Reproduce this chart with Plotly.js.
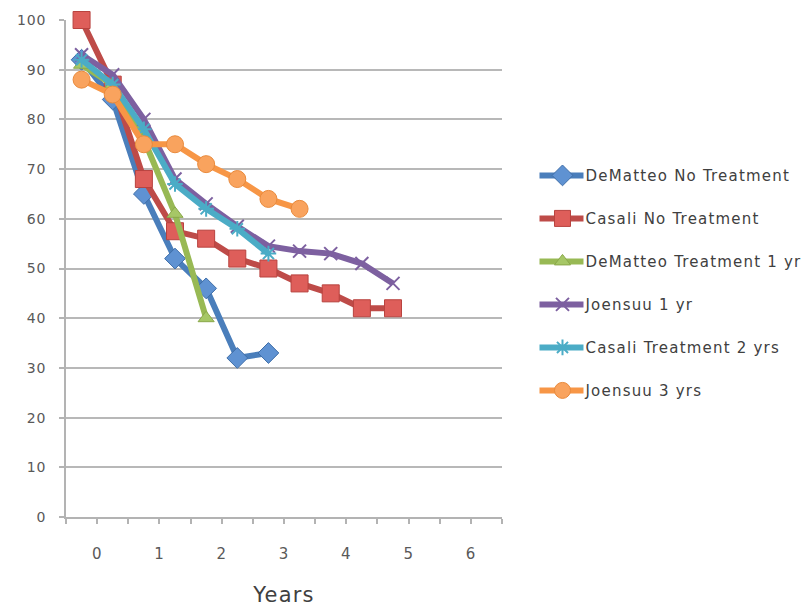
<!DOCTYPE html>
<html>
<head>
<meta charset="utf-8">
<script src="https://cdn.plot.ly/plotly-3.0.1.min.js"></script>
<style>
html,body{margin:0;padding:0;background:#fff;}
#chart{width:808px;height:607px;}
.legendtext{letter-spacing:1.2px;}
#chart .xtick text,#chart .ytick text{letter-spacing:0.8px;}
.xtitle{letter-spacing:1.2px;}
</style>
</head>
<body>
<div id="chart"></div>
<script>
// Time points (years) of each measured point
const years = [-0.25, 0.25, 0.75, 1.25, 1.75, 2.25, 2.75, 3.25, 3.75, 4.25, 4.75];

const seriesNames = [
  "DeMatteo No Treatment",
  "Casali No Treatment",
  "DeMatteo Treatment 1 yr",
  "Joensuu 1 yr",
  "Casali Treatment 2 yrs",
  "Joensuu 3 yrs"
];

const deMatteoNoTreatment = [92, 84, 65, 52, 46, 32, 33];
const casaliNoTreatment   = [100, 87, 68, 57.5, 56, 52, 50, 47, 45, 42, 42];
const deMatteoTreatment1  = [91, 87, 76, 61, 40];
const joensuu1yr          = [93, 89, 80, 68, 63, 58.5, 54.5, 53.5, 53, 51, 47];
const casaliTreatment2    = [92, 87, 78, 67, 62, 58, 53];
const joensuu3yrs         = [88, 85, 75, 75, 71, 68, 64, 62];

const xTickVals = [-0.5,0,0.5,1,1.5,2,2.5,3,3.5,4,4.5,5,5.5,6,6.5];
const xTickText = ["","0","","1","","2","","3","","4","","5","","6",""];
const yTickVals = [0,10,20,30,40,50,60,70,80,90,100];

const values = [deMatteoNoTreatment, casaliNoTreatment, deMatteoTreatment1, joensuu1yr, casaliTreatment2, joensuu3yrs];
const lineColors = ["#4A7EBB", "#BE4B48", "#98B954", "#7D60A0", "#4BACC6", "#F79646"];
const markerFills = ["#5F92D2", "#DE5E5A", "#A6C766", "#7D60A0", "#4BACC6", "#F9A35E"];
const markerLines = ["#3F6EA8", "#B8433F", "#8AA84A", "#6E5290", "#3F96AE", "#E98A3C"];
const symbols = ["diamond", "square", "triangle-up", "x-thin-open", "asterisk-open", "circle"];
const sizes = [16, 17, 14, 13, 13, 17];

const traces = values.map((v, k) => {
  const open = symbols[k].indexOf("open") >= 0;
  return {
    type: "scatter",
    mode: "lines+markers",
    name: seriesNames[k],
    legendgroup: "g" + k,
    x: years.slice(0, v.length),
    y: v,
    cliponaxis: false,
    line: {color: lineColors[k], width: 6},
    marker: {
      symbol: symbols[k],
      size: sizes[k],
      color: open ? lineColors[k] : markerFills[k],
      line: {color: open ? lineColors[k] : markerLines[k], width: open ? 2 : 1}
    }
  };
});

const layout = {
  width: 808,
  height: 607,
  paper_bgcolor: "#ffffff",
  plot_bgcolor: "#ffffff",
  margin: {l: 66, r: 306, t: 20, b: 90, autoexpand: false},
  font: {family: "DejaVu Sans, sans-serif", color: "#595959", size: 12},
  showlegend: true,
  legend: {
    x: 1.086, xanchor: "left",
    y: 0.72, yanchor: "top",
    font: {size: 15, color: "#404040"},
    tracegroupgap: 20.5,
    itemwidth: 36,
    bgcolor: "rgba(0,0,0,0)"
  },
  xaxis: {
    range: [-0.5, 6.5],
    tickmode: "array",
    tickvals: xTickVals,
    ticktext: xTickText,
    ticks: "outside",
    ticklen: 5,
    tickwidth: 2,
    tickcolor: "#b3b3b3",
    ticklabelstandoff: 17,
    showgrid: false,
    zeroline: false,
    showline: true,
    linecolor: "#b3b3b3",
    linewidth: 2,
    tickfont: {size: 15, color: "#595959"},
    title: {text: "Years", font: {size: 21, color: "#404040"}, standoff: 26}
  },
  yaxis: {
    range: [0, 100],
    tickmode: "array",
    tickvals: yTickVals,
    ticks: "outside",
    ticklen: 5,
    tickwidth: 2,
    tickcolor: "#b3b3b3",
    ticklabelstandoff: 10,
    showgrid: true,
    gridcolor: "#b8b8b8",
    gridwidth: 2,
    zeroline: false,
    showline: true,
    linecolor: "#b3b3b3",
    linewidth: 2,
    tickfont: {size: 14, color: "#595959"}
  }
};

Plotly.newPlot("chart", traces, layout, {displayModeBar: false, staticPlot: true}).then(function (gd) {
  // lengthen the legend line samples, as in the original
  gd.querySelectorAll(".legend .legendlines path").forEach(function (p) {
    p.setAttribute("d", "M-4,0h48");
  });
});
</script>
</body>
</html>
